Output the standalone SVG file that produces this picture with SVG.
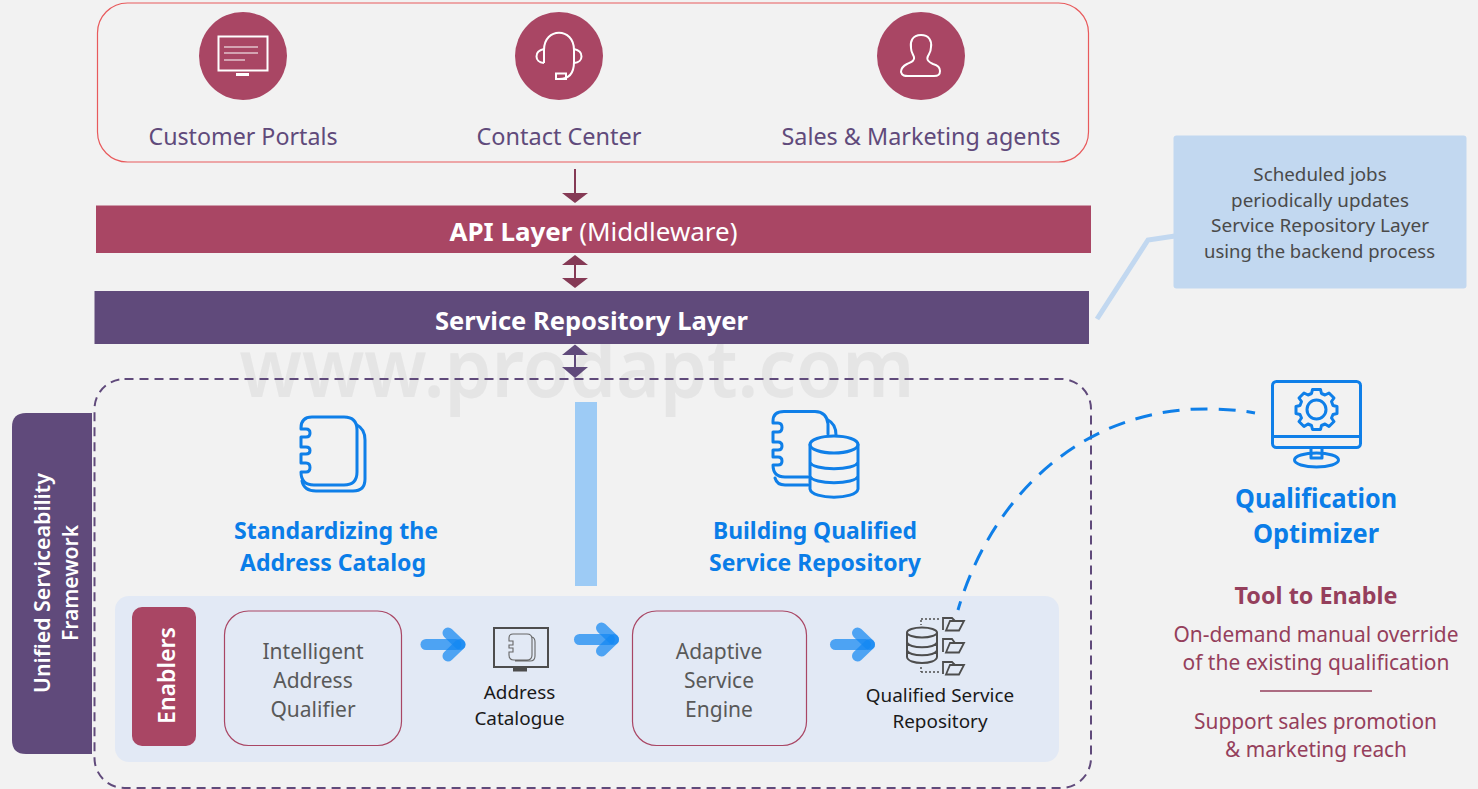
<svg xmlns="http://www.w3.org/2000/svg" width="1478" height="789" viewBox="0 0 1478 789">
<style>
text{font-family:"Noto Sans","Open Sans",sans-serif;text-anchor:middle}
.top{font-size:23px;fill:#604a7b}
.bar{font-size:25px;fill:#fff}
.b{font-weight:700}
.head{font-size:24px;font-weight:700;fill:#0a7de8}
.opt{font-size:26px;font-weight:700;fill:#0a7de8}
.grey{font-size:21px;fill:#595959}
.dark{font-size:18.9px;fill:#1a1a1a}
.note{font-size:18.8px;fill:#4a4a4a}
.red{font-size:21px;fill:#953f5c}
.ico{fill:none;stroke:#fff;stroke-width:2}
.bl{fill:none;stroke:#0f7fe8;stroke-width:3;stroke-linejoin:round;stroke-linecap:round}
.dk{fill:none;stroke:#4d4d4d;stroke-width:2}
.ghost{fill:none;stroke:#1488f2;stroke-opacity:.72;stroke-width:11;stroke-linecap:round}
</style>
<defs>
<g id="flow"><path class="ghost" d="M0 0H30"/><path class="ghost" d="M22-11.500 34 0"/><path class="ghost" d="M22 11.500 34 0"/></g>
</defs>
<rect width="1478" height="789" fill="#f2f2f2"/>
<text x="577" y="397" font-size="82" font-weight="600" style="fill:#e5e5e5" textLength="675" lengthAdjust="spacingAndGlyphs">www.prodapt.com</text>

<g id="channels">
<rect x="97.500" y="3" width="991" height="159" rx="30" fill="none" stroke="#e85a5c" stroke-width="1.200"/>
<g id="customer-portals">
<circle cx="243" cy="56" r="44" fill="#a94664"/>
<rect x="218.500" y="36.500" width="49" height="34" class="ico"/>
<path class="ico" d="M224 47H258M224 53H258M224 60H245" style="stroke-width:1.200"/>
<rect x="236" y="73" width="13" height="3" fill="#fff"/>
<text class="top" x="243" y="145" textLength="189" lengthAdjust="spacingAndGlyphs">Customer Portals</text>
</g>
<g id="contact-center">
<circle cx="559" cy="56" r="44" fill="#a94664"/>
<path class="ico" d="M544 63V50C544 27 574 27 574 50V62C574 72 570 79 559 79"/>
<path class="ico" d="M544 49C534 51 534 62 544 63M574 49C584 51 584 62 574 63"/>
<rect x="556" y="73.500" width="10" height="5.500" class="ico"/>
<text class="top" x="559" y="145" textLength="165" lengthAdjust="spacingAndGlyphs">Contact Center</text>
</g>
<g id="sales-marketing">
<circle cx="921" cy="56" r="44" fill="#a94664"/>
<path class="ico" d="M921 35C912 35 910 42 911 48C911 52 913 54 914 57C915 61 911 62 907 64C903 66 901 68 901 72C902 76 905 76 908 76H934C938 76 940 75 940 71C940 67 937 65 933 64C929 62 926 60 928 56C929 54 931 52 931 47C932 41 929 35 921 35Z"/>
<text class="top" x="921" y="145" textLength="279" lengthAdjust="spacingAndGlyphs">Sales &amp; Marketing agents</text>
</g>
</g>

<g id="api-layer">
<rect x="96" y="205.500" width="995" height="47.500" fill="#a94664"/>
<text class="bar" x="593.500" y="241" textLength="288" lengthAdjust="spacingAndGlyphs"><tspan class="b">API Layer</tspan> (Middleware)</text>
</g>
<g id="service-repository-layer">
<rect x="94.500" y="291" width="994.500" height="53" fill="#604a7b"/>
<text class="bar b" x="591.500" y="330" textLength="313" lengthAdjust="spacingAndGlyphs">Service Repository Layer</text>
</g>

<g id="framework-tab">
<path d="M92 413H26Q12 413 12 427V740Q12 754 26 754H92Z" fill="#604a7b"/>
<text transform="translate(49.500 583) rotate(-90)" font-size="22" font-weight="600" fill="#fff" textLength="220" lengthAdjust="spacingAndGlyphs">Unified Serviceability</text>
<text transform="translate(77.500 583) rotate(-90)" font-size="22" font-weight="600" fill="#fff" textLength="116" lengthAdjust="spacingAndGlyphs">Framework</text>
</g>
<rect id="framework-boundary" x="94.500" y="379" width="996.500" height="409" rx="30" fill="none" stroke="#604a7b" stroke-width="2" stroke-dasharray="9 6"/>

<rect id="divider" x="575" y="402" width="22" height="184" fill="#9dcbf5"/>

<g id="standardizing">
<path class="bl" d="M312 417H344Q357 417 357 430V472Q357 485 344 485H314Q301 485 301 472V472H306Q310 472 310 467.500 310 463 306 463H301V454H306Q310 454 310 450.500 310 447 306 447H301V437H306Q310 437 310 433 310 429 306 429H301V428Q301 417 312 417Z"/>
<path class="bl" d="M357 425Q365 429 365 440V479Q365 491 353 491H316Q304 491 302 481"/>
<text class="head" x="336" y="539" textLength="204" lengthAdjust="spacingAndGlyphs">Standardizing the</text>
<text class="head" x="333" y="571" textLength="186" lengthAdjust="spacingAndGlyphs">Address Catalog</text>
</g>
<g id="building">
<path class="bl" d="M808 477H785Q773 477 773 465H778Q782 465 782 461 782 457 778 457H773V450H778Q782 450 782 446 782 442 778 442H773V432H778Q782 432 782 427.500 782 423 778 423H773V421Q773 411.500 784 411.500H815Q827 412 828 424V434"/>
<path class="bl" d="M828 420Q836 424 836 435M775 478Q777 485 785 485H808"/>
<ellipse class="bl" cx="834" cy="444.500" rx="24" ry="8.500"/>
<path class="bl" d="M810 444.500V489C812 500 856 500 858 489V444.500M810 462C812 471 856 471 858 462M810 476C812 485 856 485 858 476"/>
<text class="head" x="815" y="539" textLength="204" lengthAdjust="spacingAndGlyphs">Building Qualified</text>
<text class="head" x="815" y="571" textLength="212" lengthAdjust="spacingAndGlyphs">Service Repository</text>
</g>

<g id="enablers-panel">
<rect x="115" y="596" width="944" height="166" rx="14" fill="#e2e9f5"/>
<g id="enablers">
<rect x="132" y="607" width="64" height="139" rx="10" fill="#a94664"/>
<text transform="translate(174.500 675.500) rotate(-90)" font-size="24" font-weight="600" fill="#fff" textLength="97" lengthAdjust="spacingAndGlyphs">Enablers</text>
</g>
<g id="intelligent-address-qualifier">
<rect x="224.500" y="611" width="177" height="134.500" rx="24" fill="#e2e9f5" stroke="#a94664" stroke-width="1.200"/>
<text class="grey" x="313" y="659">Intelligent</text>
<text class="grey" x="313" y="688">Address</text>
<text class="grey" x="313" y="717">Qualifier</text>
</g>
<g id="address-catalogue">
<rect x="494" y="628" width="54" height="39" fill="none" stroke="#4d4d4d" stroke-width="2"/>
<rect x="513" y="668" width="14" height="3.500" fill="#4d4d4d"/>
<path d="M513 634H527Q532 634 532 639V655Q532 660 527 660H514Q509 660 509 655V652H513V648H509V645H513V641H509V638Q509 634 513 634ZM532 637Q535 638 535 642V656Q535 661 530 661H515" fill="none" stroke="#666" stroke-width="1.100"/>
<text class="dark" x="519.500" y="699">Address</text>
<text class="dark" x="519.500" y="725">Catalogue</text>
</g>
<g id="adaptive-service-engine">
<rect x="632.500" y="611" width="174" height="134.500" rx="24" fill="#e2e9f5" stroke="#a94664" stroke-width="1.200"/>
<text class="grey" x="719" y="659">Adaptive</text>
<text class="grey" x="719" y="688">Service</text>
<text class="grey" x="719" y="717">Engine</text>
</g>
<g id="qualified-service-repository">
<ellipse class="dk" cx="922" cy="632.500" rx="15" ry="5"/>
<path class="dk" d="M907 632.500V657C908 665 936 665 937 657V632.500M907 642C908 649 936 649 937 642M907 650C908 657 936 657 937 650"/>
<path d="M921 619H939M921 620V625M921 667V672M921 672H939" fill="none" stroke="#4d4d4d" stroke-width="1.500" stroke-dasharray="2 2"/>
<g id="folders" fill="none" stroke="#4d4d4d" stroke-width="1.800">
<path d="M943 630V618H952L955 621H961"/><path d="M946 630.500H959L964 621H950Z"/>
<path d="M943 652V639H952L955 643H961"/><path d="M946 652.500H959L964 643H950Z"/>
<path d="M943 674V662H952L955 665H961"/><path d="M946 674.500H959L964 665H950Z"/>
</g>
<text class="dark" x="940" y="702">Qualified Service</text>
<text class="dark" x="940" y="728">Repository</text>
</g>
</g>

<g id="callout">
<path d="M1097 319 1148 240 1175 236" fill="none" stroke="#c2d8f0" stroke-width="5"/>
<rect x="1173.500" y="135.500" width="293" height="153" rx="3" fill="#c2d8f0"/>
<text class="note" x="1320" y="181">Scheduled jobs</text>
<text class="note" x="1320" y="207">periodically updates</text>
<text class="note" x="1320" y="232" textLength="218" lengthAdjust="spacingAndGlyphs">Service Repository Layer</text>
<text class="note" x="1319.500" y="258" textLength="231" lengthAdjust="spacingAndGlyphs">using the backend process</text>
</g>

<g id="qualification-optimizer">
<rect x="1272.500" y="381.500" width="88" height="66" rx="4" class="bl"/>
<path class="bl" d="M1272.500 436.500H1360.500M1311 448V458H1322V448"/>
<ellipse class="bl" cx="1316.500" cy="460" rx="22" ry="7"/>
<circle class="bl" cx="1316.500" cy="409.500" r="9.500"/>
<path class="bl" d="M1312.500 389.500H1320.500L1321.500 393.500 1325 395 1329 393 1334 398 1331.500 401.500 1333 405.500 1337 406.500V413.500L1333 414.500 1331.500 418 1334 421.500 1329 426.500 1325 424 1321.500 425.500 1320.500 429.500H1312.500L1311.500 425.500 1308 424 1304 426.500 1299 421.500 1301.500 418 1300 414.500 1296 413.500V406.500L1300 405.500 1301.500 401.500 1299 398 1304 393 1308 395 1311.500 393.500Z"/>
<text class="opt" x="1316" y="508" textLength="162" lengthAdjust="spacingAndGlyphs">Qualification</text>
<text class="opt" x="1316" y="543" textLength="126" lengthAdjust="spacingAndGlyphs">Optimizer</text>
<text x="1316" y="604" font-size="24" font-weight="700" fill="#953f5c" textLength="163" lengthAdjust="spacingAndGlyphs">Tool to Enable</text>
<text class="red" x="1316" y="641.500" textLength="285" lengthAdjust="spacingAndGlyphs">On-demand manual override</text>
<text class="red" x="1316" y="669.500" textLength="267" lengthAdjust="spacingAndGlyphs">of the existing qualification</text>
<path d="M1260 691H1372" stroke="#953f5c" stroke-width="1.500"/>
<text class="red" x="1315.500" y="728.500" textLength="243" lengthAdjust="spacingAndGlyphs">Support sales promotion</text>
<text class="red" x="1316" y="756.500" textLength="182" lengthAdjust="spacingAndGlyphs">&amp; marketing reach</text>
</g>

<g id="connectors">
<path d="M575 169V195" stroke="#853a55" stroke-width="2"/><path d="M562 193H588L575 203Z" fill="#853a55"/>
<path d="M575 262V281" stroke="#853a55" stroke-width="2"/><path d="M562 265H588L575 255Z" fill="#853a55"/><path d="M562 278H588L575 288Z" fill="#853a55"/>
<path d="M575 352V370" stroke="#604a7b" stroke-width="2"/><path d="M562 355H588L575 344.500Z" fill="#604a7b"/><path d="M562 367H588L575 378Z" fill="#604a7b"/>
<path d="M958 610C990 500 1080 405 1215 409Q1240 410 1255 413" fill="none" stroke="#0f7fe8" stroke-width="3" stroke-dasharray="17 11" stroke-dashoffset="8"/>
<use href="#flow" x="426" y="644.500"/>
<use href="#flow" x="579.500" y="639.500"/>
<use href="#flow" x="835.500" y="644.500"/>
</g>
</svg>
